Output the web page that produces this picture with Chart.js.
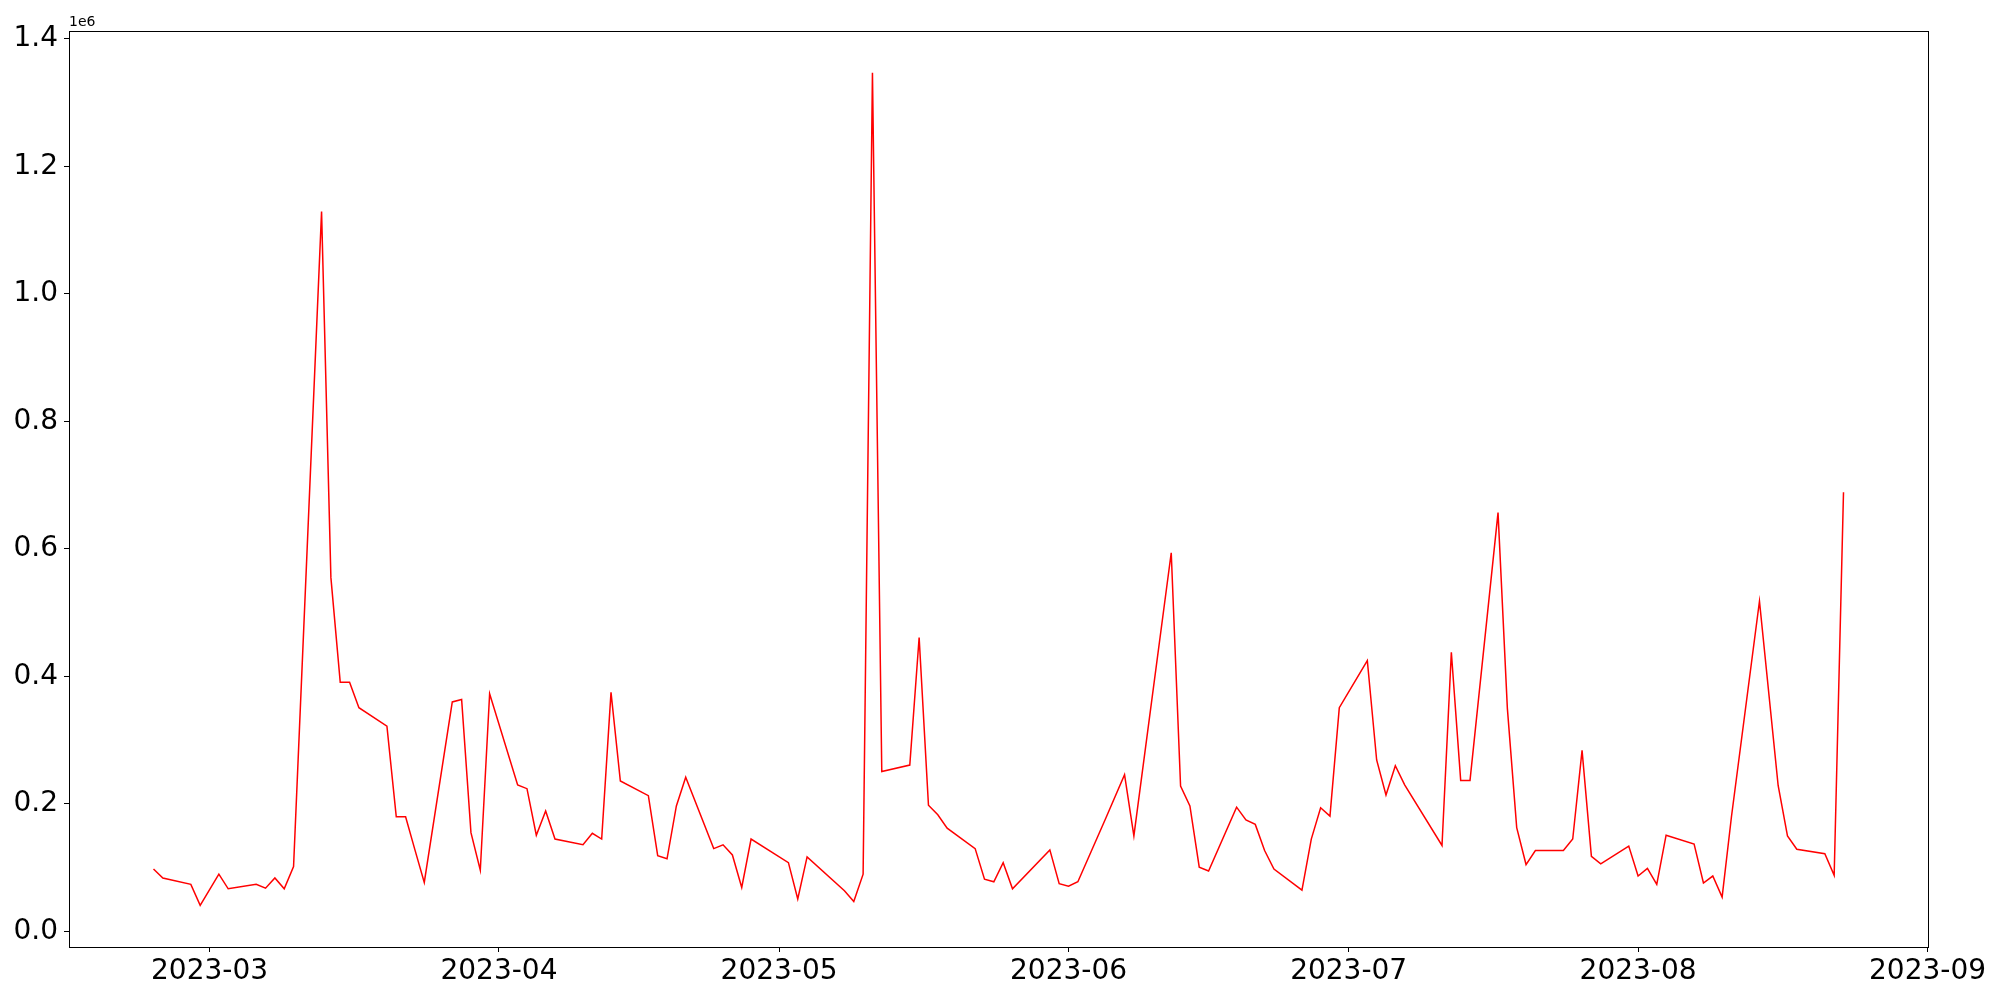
<!DOCTYPE html>
<html>
<head>
<meta charset="utf-8">
<script src="https://cdn.jsdelivr.net/npm/chart.js@4.4.0/dist/chart.umd.min.js"></script>
<style>
  html, body { margin: 0; padding: 0; background: #fff; }
  #wrap { width: 2000px; height: 1000px; }
</style>
</head>
<body>
<div id="wrap"><canvas id="chart" width="2000" height="1000"></canvas></div>
<script>
// daily values (business days, some days missing)
const dates = [
  '2023-02-23', '2023-02-24', '2023-02-27', '2023-02-28', '2023-03-02', '2023-03-03',
  '2023-03-06', '2023-03-07', '2023-03-08', '2023-03-09', '2023-03-10',
  '2023-03-13', '2023-03-14', '2023-03-15', '2023-03-16', '2023-03-17',
  '2023-03-20', '2023-03-21', '2023-03-22', '2023-03-23', '2023-03-24',
  '2023-03-27', '2023-03-28', '2023-03-29', '2023-03-30', '2023-03-31',
  '2023-04-03', '2023-04-04', '2023-04-05', '2023-04-06', '2023-04-07',
  '2023-04-10', '2023-04-11', '2023-04-12', '2023-04-13', '2023-04-14',
  '2023-04-17', '2023-04-18', '2023-04-19', '2023-04-20', '2023-04-21',
  '2023-04-24', '2023-04-25', '2023-04-26', '2023-04-27', '2023-04-28',
  '2023-05-02', '2023-05-03', '2023-05-04', '2023-05-08', '2023-05-09',
  '2023-05-10', '2023-05-11', '2023-05-12', '2023-05-15', '2023-05-16',
  '2023-05-17', '2023-05-18', '2023-05-19', '2023-05-22', '2023-05-23',
  '2023-05-24', '2023-05-25', '2023-05-26', '2023-05-30', '2023-05-31',
  '2023-06-01', '2023-06-02', '2023-06-05', '2023-06-07', '2023-06-08',
  '2023-06-12', '2023-06-13', '2023-06-14', '2023-06-15', '2023-06-16',
  '2023-06-19', '2023-06-20', '2023-06-21', '2023-06-22', '2023-06-23',
  '2023-06-26', '2023-06-27', '2023-06-28', '2023-06-29', '2023-06-30',
  '2023-07-03', '2023-07-04', '2023-07-05', '2023-07-06', '2023-07-07',
  '2023-07-11', '2023-07-12', '2023-07-13', '2023-07-14',
  '2023-07-17', '2023-07-18', '2023-07-19', '2023-07-20', '2023-07-21',
  '2023-07-24', '2023-07-25', '2023-07-26', '2023-07-27', '2023-07-28',
  '2023-07-31', '2023-08-01', '2023-08-02', '2023-08-03', '2023-08-04',
  '2023-08-07', '2023-08-08', '2023-08-09', '2023-08-10', '2023-08-11',
  '2023-08-14', '2023-08-16', '2023-08-17', '2023-08-18',
  '2023-08-21', '2023-08-22', '2023-08-23'
];
const values = [
  98000, 84000, 74000, 41000, 90000, 67000,
  74000, 68000, 84000, 67000, 102000,
  1129000, 555000, 391000, 391000, 351000,
  322000, 180000, 180000, 128000, 77000,
  360000, 364000, 155000, 96000, 373000,
  230000, 224000, 151000, 189000, 145000,
  136000, 154000, 145000, 375000, 236000,
  213000, 119000, 114000, 197000, 242000,
  130000, 136000, 120000, 69000, 145000,
  108000, 51000, 117000, 64000, 47000,
  90000, 1347000, 251000, 261000, 461000,
  198000, 183000, 162000, 130000, 82000,
  78000, 108000, 67000, 128000, 75000,
  71000, 78000, 178000, 246000, 150000,
  594000, 228000, 197000, 101000, 95000,
  195000, 175000, 168000, 127000, 98000,
  65000, 145000, 194000, 181000, 351000,
  425000, 269000, 214000, 260000, 230000,
  135000, 438000, 237000, 237000,
  657000, 350000, 163000, 105000, 127000,
  127000, 145000, 284000, 118000, 106000,
  134000, 87000, 99000, 74000, 151000,
  137000, 76000, 87000, 54000, 180000,
  518000, 229000, 150000, 129000,
  122000, 88000, 689000
];
const monthTicks = ['2023-03-01', '2023-04-01', '2023-05-01', '2023-06-01', '2023-07-01', '2023-08-01', '2023-09-01'];
const monthLabels = ['2023-03', '2023-04', '2023-05', '2023-06', '2023-07', '2023-08', '2023-09'];
const yTicks = [0, 200000, 400000, 600000, 800000, 1000000, 1200000, 1400000];

const toDay = s => {
  const [y, m, d] = s.split('-').map(Number);
  return Date.UTC(y, m - 1, d) / 864e5;
};

const points = dates.map((d, i) => ({ x: toDay(d), y: values[i] }));

// matplotlib-like 5% margins
const xs = points.map(p => p.x), ys = points.map(p => p.y);
const xLo = Math.min(...xs), xHi = Math.max(...xs);
const yLo = Math.min(...ys), yHi = Math.max(...ys);
const xPad = (xHi - xLo) * 0.05, yPad = (yHi - yLo) * 0.05;

const tickFont = { family: 'DejaVu Sans', size: 28 };

const framePlugin = {
  id: 'frame',
  afterDraw(chart) {
    const { ctx, chartArea: a } = chart;
    ctx.save();
    ctx.strokeStyle = '#000';
    ctx.lineWidth = 1;
    ctx.strokeRect(a.left + 0.5, a.top + 0.5, a.right - a.left, a.bottom - a.top);
    ctx.fillStyle = '#000';
    ctx.font = '14px "DejaVu Sans"';
    ctx.textAlign = 'left';
    ctx.textBaseline = 'alphabetic';
    ctx.fillText('1e6', a.left, a.top - 5);
    ctx.restore();
  }
};

new Chart(document.getElementById('chart'), {
  type: 'line',
  data: {
    datasets: [{
      data: points,
      borderColor: '#ff0000',
      borderWidth: 1.5,
      pointRadius: 0,
      tension: 0,
      fill: false
    }]
  },
  options: {
    responsive: false,
    animation: false,
    devicePixelRatio: 1,
    layout: { padding: { left: 0, top: 31, right: 72, bottom: 0 } },
    plugins: { legend: { display: false }, tooltip: { enabled: false } },
    scales: {
      x: {
        type: 'linear',
        min: xLo - xPad,
        max: xHi + xPad,
        afterBuildTicks: s => { s.ticks = monthTicks.map(m => ({ value: toDay(m) })); },
        afterFit: s => { s.height = 53; },
        ticks: {
          callback: (v, i) => monthLabels[i],
          font: tickFont, color: '#000', padding: 3, maxRotation: 0, autoSkip: false
        },
        grid: { display: true, drawOnChartArea: false, drawTicks: true, tickLength: 5, color: '#000', lineWidth: 1 },
        border: { display: true, color: '#000', width: 1 }
      },
      y: {
        min: yLo - yPad,
        max: yHi + yPad,
        afterBuildTicks: s => { s.ticks = yTicks.map(v => ({ value: v })); },
        afterFit: s => { s.width = 69; },
        ticks: {
          callback: v => (v / 1e6).toFixed(1),
          font: tickFont, color: '#000', padding: 6
        },
        grid: { display: true, drawOnChartArea: false, drawTicks: true, tickLength: 5, color: '#000', lineWidth: 1 },
        border: { display: true, color: '#000', width: 1 }
      }
    }
  },
  plugins: [framePlugin]
});
</script>
</body>
</html>
